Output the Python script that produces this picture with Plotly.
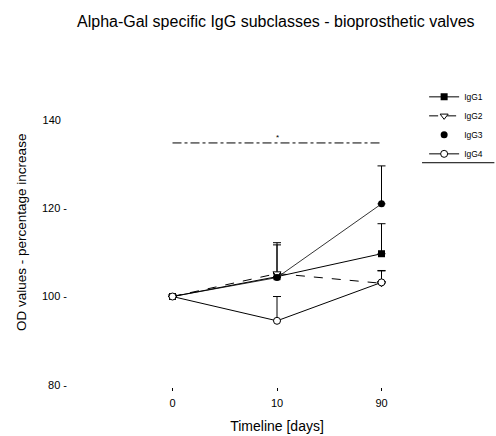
import plotly.graph_objects as go

days = ["0", "10", "90"]
igg1 = [100, 104.5, 109.7]
igg1_err = [0, 7.2, 6.8]
igg2 = [100, 105.2, 103.0]
igg2_err = [0, 7.0, 2.8]
igg3 = [100, 104.3, 121.0]
igg3_err = [0, 0, 8.6]
igg4 = [100, 94.5, 103.2]
igg4_err = [0, 5.5, 2.7]
sig_level = 134.8
sig_from, sig_to = 0, 2
yticks = [80, 100, 120, 140]
ytick_text = ["80 -", "100 -", "120 -", "140\u00a0\u00a0"]

xpos = list(range(len(days)))
FONT = "Liberation Sans, Arial, sans-serif"

def err(vals):
    return dict(type="data", array=vals, symmetric=False, arrayminus=[0] * len(vals),
                color="black", thickness=1, width=4)

fig = go.Figure()
fig.add_trace(go.Scatter(x=xpos, y=igg1, name="IgG1", mode="lines+markers",
                         line=dict(color="black", width=1),
                         marker=dict(symbol="square", size=7, color="black"),
                         error_y=err(igg1_err)))
fig.add_trace(go.Scatter(x=xpos, y=igg2, name="IgG2", mode="lines+markers",
                         line=dict(color="black", width=1, dash="dash"),
                         marker=dict(symbol="triangle-down", size=7, color="white",
                                     line=dict(color="black", width=1)),
                         error_y=err(igg2_err)))
fig.add_trace(go.Scatter(x=xpos, y=igg3, name="IgG3", mode="lines", showlegend=False,
                         line=dict(color="black", width=0.8), hoverinfo="skip"))
fig.add_trace(go.Scatter(x=xpos, y=igg3, name="IgG3", mode="markers",
                         marker=dict(symbol="circle", size=7, color="black"),
                         error_y=err(igg3_err)))
fig.add_trace(go.Scatter(x=xpos, y=igg4, name="IgG4", mode="lines+markers",
                         line=dict(color="black", width=1),
                         marker=dict(symbol="circle", size=7, color="white",
                                     line=dict(color="black", width=1)),
                         error_y=err(igg4_err)))

fig.add_shape(type="line", xref="x", yref="y", x0=sig_from, x1=sig_to,
              y0=sig_level, y1=sig_level, line=dict(color="black", width=1, dash="dashdot"))
fig.add_annotation(x=(sig_from + sig_to) / 2, y=sig_level, xref="x", yref="y",
                   text="*", showarrow=False, yshift=5, font=dict(size=8, color="black", family=FONT))
fig.add_shape(type="line", xref="paper", yref="paper", x0=0.847, x1=1.02,
              y0=0.84, y1=0.84, line=dict(color="black", width=1))
fig.add_annotation(text="OD values - percentage increase", xref="paper", yref="paper",
                   x=-0.11, y=0.577, xanchor="center", yanchor="middle", textangle=-90,
                   showarrow=False, font=dict(size=13.5, family=FONT, color="black"))

fig.update_layout(
    width=496, height=436,
    margin=dict(l=68, r=10, t=120, b=49, autoexpand=False),
    paper_bgcolor="white", plot_bgcolor="white",
    font=dict(family=FONT, size=11, color="black"),
    title=dict(text="Alpha-Gal specific IgG subclasses - bioprosthetic valves",
               x=0.556, xanchor="center", y=0.95, yanchor="middle",
               font=dict(size=16, family=FONT, color="black")),
    showlegend=True,
    legend=dict(x=0.852, xanchor="left", y=1.141, yanchor="top", bgcolor="rgba(0,0,0,0)",
                font=dict(size=8.5, family=FONT), tracegroupgap=0, itemwidth=30),
    xaxis=dict(range=[-1, 3], tickmode="array", tickvals=xpos, ticktext=days,
               showgrid=False, zeroline=False, showline=False, ticks="outside",
               ticklen=3, tickcolor="black",
               title=dict(text="Timeline [days]", standoff=12, font=dict(size=14)),
               ticklabelstandoff=3),
    yaxis=dict(range=[79.5, 140], tickmode="array", tickvals=yticks, ticktext=ytick_text,
               showgrid=False, zeroline=False, showline=False, ticks="",
               tickfont=dict(size=11)),
)

fig.write_html("out.html", config={"displayModeBar": False},
               post_script="document.body.style.margin='0';document.body.style.overflow='hidden';")
